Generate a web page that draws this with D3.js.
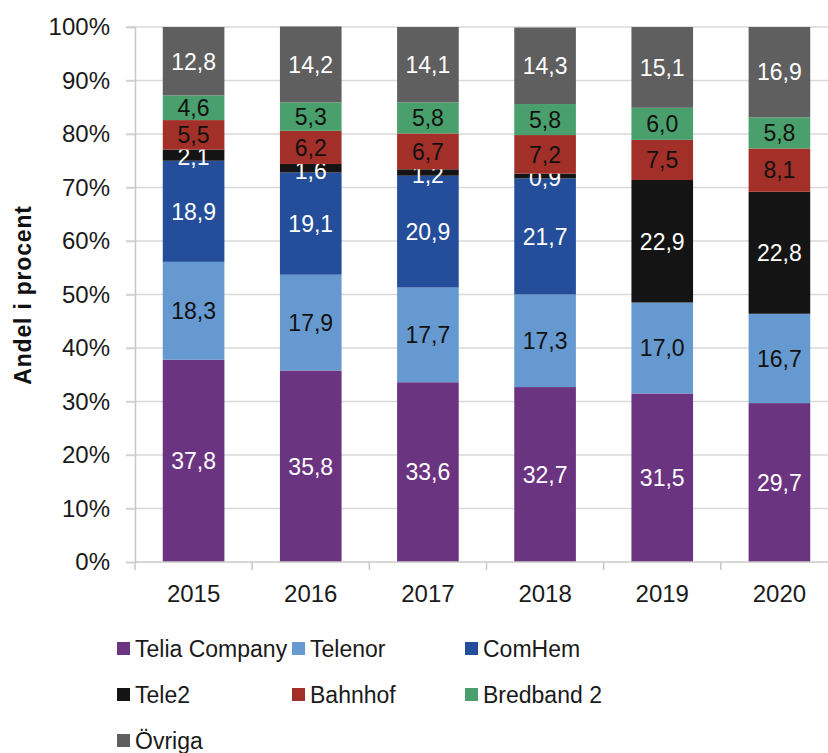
<!DOCTYPE html>
<html>
<head>
<meta charset="utf-8">
<script src="https://cdn.jsdelivr.net/npm/d3@7"></script>
<style>
  body { margin: 0; background: #fff; }
  svg { display: block; font-family: "Liberation Sans", Arial, sans-serif; }
</style>
</head>
<body>
<div id="chart"></div>
<script>
var years = ['2015', '2016', '2017', '2018', '2019', '2020'];
var operators = ['Telia Company', 'Telenor', 'ComHem', 'Tele2', 'Bahnhof', 'Bredband 2', 'Övriga'];

var telia    = [37.8, 35.8, 33.6, 32.7, 31.5, 29.7];
var telenor  = [18.3, 17.9, 17.7, 17.3, 17.0, 16.7];
var comhem   = [18.9, 19.1, 20.9, 21.7, 0, 0];
var tele2    = [2.1, 1.6, 1.2, 0.9, 22.9, 22.8];
var bahnhof  = [5.5, 6.2, 6.7, 7.2, 7.5, 8.1];
var bredband = [4.6, 5.3, 5.8, 5.8, 6.0, 5.8];
var ovriga   = [12.8, 14.2, 14.1, 14.3, 15.1, 16.9];

var yTicks = [0, 10, 20, 30, 40, 50, 60, 70, 80, 90, 100];

var colors = ['#6b3481', '#6699cf', '#244e9a', '#141414', '#a22f28', '#49a06c', '#5f5f5f'];
var labelColors = ['#fff', '#111', '#fff', '#fff', '#111', '#111', '#fff'];

var seriesValues = [telia, telenor, comhem, tele2, bahnhof, bredband, ovriga];

var W = 828, H = 753;
var svg = d3.select('#chart').append('svg')
    .attr('width', W)
    .attr('height', H);

var x = d3.scaleBand().domain(years).range([135, 838])
    .paddingInner(0.474).paddingOuter(0.237);
var y = d3.scaleLinear().domain([0, 100]).range([562, 27]);

// gridlines
svg.append('g')
  .selectAll('line')
  .data(yTicks.filter(function(d) { return d > 0; }))
  .enter().append('line')
  .attr('x1', 126).attr('x2', 838)
  .attr('y1', function(d) { return y(d); })
  .attr('y2', function(d) { return y(d); })
  .style('stroke', '#d9d9d9')
  .style('stroke-width', 1.5);

// table for stacking
var table = years.map(function(yr, i) {
    var row = {year: yr};
    operators.forEach(function(op, k) { row[op] = seriesValues[k][i]; });
    return row;
});
var stacked = d3.stack().keys(operators)(table);

var layers = svg.append('g')
  .selectAll('g')
  .data(stacked)
  .enter().append('g')
  .style('fill', function(d, k) { return colors[k]; });

layers.selectAll('rect')
  .data(function(d) { return d; })
  .enter().append('rect')
  .attr('x', function(d) { return x(d.data.year); })
  .attr('width', x.bandwidth())
  .attr('y', function(d) { return y(d[1]); })
  .attr('height', function(d) { return y(d[0]) - y(d[1]); });

// y axis
var yAxis = svg.append('g')
  .attr('transform', 'translate(135,0)')
  .call(d3.axisLeft(y).tickValues(yTicks).tickSize(9).tickFormat(function(d) { return d + '%'; }));
yAxis.select('.domain').style('stroke', '#c8c8c8').style('stroke-width', 1.5);
yAxis.selectAll('.tick line').style('stroke', '#d0d0d0').style('stroke-width', 1.5);
yAxis.selectAll('.tick text')
  .attr('x', -25)
  .style('font-size', '24px')
  .style('font-family', '"Liberation Sans", Arial, sans-serif')
  .style('fill', '#1a1a1a');

// x axis
var xAxis = svg.append('g')
  .attr('transform', 'translate(0,562)');
xAxis.append('line')
  .attr('x1', 135).attr('x2', 838)
  .style('stroke', '#c8c8c8').style('stroke-width', 1.5);
var bounds = years.map(function(yr) { return x(yr) - x.step() * x.paddingInner() / 2; });
xAxis.selectAll('.xt')
  .data(bounds)
  .enter().append('line')
  .attr('x1', function(d) { return d; }).attr('x2', function(d) { return d; })
  .attr('y1', 0).attr('y2', 8)
  .style('stroke', '#c8c8c8').style('stroke-width', 1.5);
xAxis.selectAll('text')
  .data(years)
  .enter().append('text')
  .attr('x', function(d) { return x(d) + x.bandwidth() / 2; })
  .attr('y', 40)
  .attr('text-anchor', 'middle')
  .style('font-size', '24px')
  .style('fill', '#1a1a1a')
  .text(function(d) { return d; });

// y title
svg.append('text')
  .attr('transform', 'translate(31,295) rotate(-90)')
  .attr('text-anchor', 'middle')
  .style('font-size', '23px')
  .style('font-weight', 'bold')
  .style('letter-spacing', '0.8px')
  .style('fill', '#111')
  .text('Andel i procent');

// data labels (thin Tele2 slices sit a little lower, as in the original)
var fmt = function(v) { return v.toFixed(1).replace('.', ','); };
layers.each(function(layer, k) {
    d3.select(this).selectAll('text')
      .data(layer.filter(function(d) { return d[1] - d[0] > 0; }))
      .enter().append('text')
      .attr('x', function(d) { return x(d.data.year) + x.bandwidth() / 2; })
      .attr('y', function(d) {
          var thin = (d[1] - d[0]) < 3 ? 2 : 0;
          return y((d[0] + d[1]) / 2) + thin;
      })
      .attr('dy', '0.36em')
      .attr('text-anchor', 'middle')
      .style('font-size', '23px')
      .style('fill', labelColors[k])
      .text(function(d) { return fmt(d[1] - d[0]); });
});

// legend
var legendCols = [117, 292, 465];
var legendRows = [657, 703, 749];
var legend = svg.append('g')
  .selectAll('g')
  .data(operators)
  .enter().append('g')
  .attr('transform', function(d, i) {
      return 'translate(' + legendCols[i % 3] + ',' + legendRows[Math.floor(i / 3)] + ')';
  });
legend.append('rect')
  .attr('x', 0).attr('y', -15)
  .attr('width', 13).attr('height', 13)
  .style('fill', function(d, i) { return colors[i]; });
legend.append('text')
  .attr('x', 18).attr('y', 0)
  .style('font-size', '23px')
  .style('fill', '#1a1a1a')
  .text(function(d) { return d; });
</script>
</body>
</html>
